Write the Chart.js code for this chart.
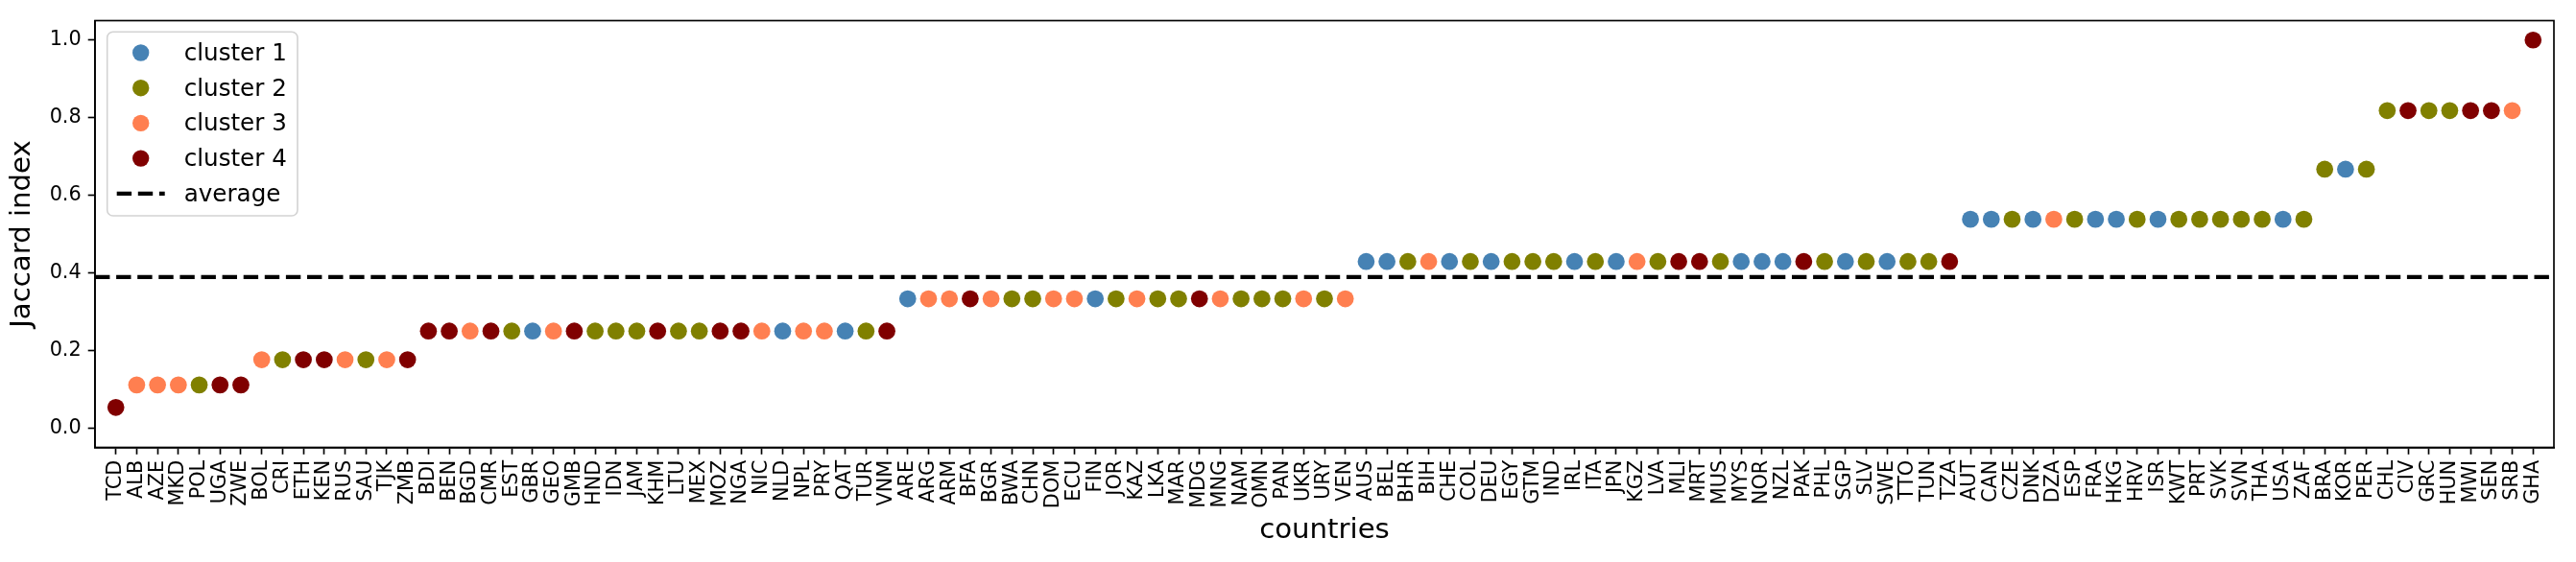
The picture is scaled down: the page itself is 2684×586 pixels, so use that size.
<!DOCTYPE html>
<html>
<head>
<meta charset="utf-8">
<script src="https://cdn.jsdelivr.net/npm/chart.js@4/dist/chart.umd.min.js"></script>
<style>
  html, body { margin: 0; padding: 0; background: #fff; overflow: hidden; }
  canvas { display: block; }
</style>
</head>
<body>
<canvas id="c" width="2684" height="586"></canvas>
<script>
// ---- data ----
const countries = [
  'TCD',
  'ALB','AZE','MKD','POL','UGA','ZWE',
  'BOL','CRI','ETH','KEN','RUS','SAU','TJK','ZMB',
  'BDI','BEN','BGD','CMR','EST','GBR','GEO','GMB','HND','IDN','JAM','KHM','LTU','MEX','MOZ','NGA','NIC','NLD','NPL','PRY','QAT','TUR','VNM',
  'ARE','ARG','ARM','BFA','BGR','BWA','CHN','DOM','ECU','FIN','JOR','KAZ','LKA','MAR','MDG','MNG','NAM','OMN','PAN','UKR','URY','VEN',
  'AUS','BEL','BHR','BIH','CHE','COL','DEU','EGY','GTM','IND','IRL','ITA','JPN','KGZ','LVA','MLI','MRT','MUS','MYS','NOR','NZL','PAK','PHL','SGP','SLV','SWE','TTO','TUN','TZA',
  'AUT','CAN','CZE','DNK','DZA','ESP','FRA','HKG','HRV','ISR','KWT','PRT','SVK','SVN','THA','USA','ZAF',
  'BRA','KOR','PER',
  'CHL','CIV','GRC','HUN','MWI','SEN','SRB',
  'GHA'
];
const jaccard = [
  0.053,
  0.111,0.111,0.111,0.111,0.111,0.111,
  0.176,0.176,0.176,0.176,0.176,0.176,0.176,0.176,
  0.25,0.25,0.25,0.25,0.25,0.25,0.25,0.25,0.25,0.25,0.25,0.25,0.25,0.25,0.25,0.25,0.25,0.25,0.25,0.25,0.25,0.25,0.25,
  0.333,0.333,0.333,0.333,0.333,0.333,0.333,0.333,0.333,0.333,0.333,0.333,0.333,0.333,0.333,0.333,0.333,0.333,0.333,0.333,0.333,0.333,
  0.429,0.429,0.429,0.429,0.429,0.429,0.429,0.429,0.429,0.429,0.429,0.429,0.429,0.429,0.429,0.429,0.429,0.429,0.429,0.429,0.429,0.429,0.429,0.429,0.429,0.429,0.429,0.429,0.429,
  0.538,0.538,0.538,0.538,0.538,0.538,0.538,0.538,0.538,0.538,0.538,0.538,0.538,0.538,0.538,0.538,0.538,
  0.667,0.667,0.667,
  0.818,0.818,0.818,0.818,0.818,0.818,0.818,
  1.0
];
const cluster = [
  4,
  3,3,3,2,4,4,
  3,2,4,4,3,2,3,4,
  4,4,3,4,2,1,3,4,2,2,2,4,2,2,4,4,3,1,3,3,1,2,4,
  1,3,3,4,3,2,2,3,3,1,2,3,2,2,4,3,2,2,2,3,2,3,
  1,1,2,3,1,2,1,2,2,2,1,2,1,3,2,4,4,2,1,1,1,4,2,1,2,1,2,2,4,
  1,1,2,1,3,2,1,1,2,1,2,2,2,2,2,1,2,
  2,1,2,
  2,4,2,2,4,4,3,
  4
];
const clusterNames = ['cluster 1','cluster 2','cluster 3','cluster 4'];
const clusterColors = ['#4682B4','#808000','#FF7F50','#800000'];
const averageValue = 0.389;
const yTickValues = [0.0, 0.2, 0.4, 0.6, 0.8, 1.0];

// ---- chart ----
const FONT = "'DejaVu Sans', 'Liberation Sans', sans-serif";
Chart.defaults.font.family = FONT;
Chart.defaults.color = '#000';

const datasets = clusterNames.map((name, k) => ({
  type: 'scatter',
  label: name,
  data: countries.map((c, i) => ({x: i, y: jaccard[i], k: cluster[i]}))
                 .filter(p => p.k === k + 1),
  backgroundColor: clusterColors[k],
  borderColor: clusterColors[k],
  borderWidth: 0,
  pointRadius: 8.85,
  pointHoverRadius: 8.85,
  order: 2
}));
datasets.push({
  type: 'line',
  label: 'average',
  data: [{x: -1, y: averageValue}, {x: countries.length, y: averageValue}],
  borderColor: '#000',
  borderWidth: 4.2,
  borderDash: [15.4, 6.7],
  pointRadius: 0,
  fill: false,
  order: 1
});

const framePlugin = {
  id: 'frame',
  afterDatasetsDraw(chart) {
    const {ctx, chartArea: a} = chart;
    ctx.save();
    ctx.strokeStyle = '#000';
    ctx.lineWidth = 1.67;
    ctx.strokeRect(a.left, a.top, a.right - a.left, a.bottom - a.top);
    ctx.restore();
  }
};

const legendPlugin = {
  id: 'mplLegend',
  afterDraw(chart) {
    const ctx = chart.ctx;
    const x0 = 111.7, y0 = 33.3, w = 198.3, h = 191.7, r = 6;
    ctx.save();
    ctx.beginPath();
    ctx.moveTo(x0 + r, y0);
    ctx.arcTo(x0 + w, y0, x0 + w, y0 + h, r);
    ctx.arcTo(x0 + w, y0 + h, x0, y0 + h, r);
    ctx.arcTo(x0, y0 + h, x0, y0, r);
    ctx.arcTo(x0, y0, x0 + w, y0, r);
    ctx.closePath();
    ctx.fillStyle = 'rgba(255,255,255,0.8)';
    ctx.fill();
    ctx.strokeStyle = '#d3d3d3';
    ctx.lineWidth = 1.6;
    ctx.stroke();

    const ds = chart.data.datasets;
    const rowY0 = 55, rowH = 36.7, markerX = 146.7, textX = 191.7;
    ctx.font = "24.6px " + FONT;
    ctx.textBaseline = 'middle';
    ctx.textAlign = 'left';
    ds.forEach((d, i) => {
      const y = rowY0 + i * rowH;
      if (d.type === 'line') {
        ctx.beginPath();
        ctx.setLineDash(d.borderDash);
        ctx.lineWidth = d.borderWidth;
        ctx.strokeStyle = d.borderColor;
        ctx.moveTo(121.7, y);
        ctx.lineTo(171.7, y);
        ctx.stroke();
        ctx.setLineDash([]);
      } else {
        ctx.beginPath();
        ctx.arc(markerX, y, 8.7, 0, Math.PI * 2);
        ctx.fillStyle = d.backgroundColor;
        ctx.fill();
      }
      ctx.fillStyle = '#000';
      ctx.fillText(d.label, textX, y + 1.5);
    });
    ctx.restore();
  }
};

new Chart(document.getElementById('c'), {
  type: 'scatter',
  data: { datasets },
  options: {
    responsive: false,
    animation: false,
    devicePixelRatio: 1,
    layout: { padding: { top: 21.5, right: 23, left: 0, bottom: 0 } },
    plugins: { legend: { display: false }, tooltip: { enabled: false } },
    scales: {
      x: {
        type: 'linear',
        min: -1,
        max: countries.length,
        afterBuildTicks: (scale) => { scale.ticks = countries.map((c, i) => ({value: i})); },
        afterFit: (scale) => { scale.height = 119.5; },
        ticks: {
          autoSkip: false,
          minRotation: 90,
          maxRotation: 90,
          padding: 6,
          font: { size: 20.8 },
          color: '#000',
          callback: (v) => countries[v]
        },
        grid: { display: true, drawOnChartArea: false, drawTicks: true, tickLength: 7.3, tickWidth: 1.67, tickColor: '#000' },
        border: { display: true, color: '#000', width: 1.67 },
        title: { display: true, text: 'countries', font: { size: 29.2 }, color: '#000', padding: { top: 0, bottom: 15 } }
      },
      y: {
        type: 'linear',
        min: -0.05,
        max: 1.05,
        afterBuildTicks: (scale) => { scale.ticks = yTickValues.map(v => ({value: v})); },
        afterFit: (scale) => { scale.width = 99; },
        ticks: {
          padding: 7,
          font: { size: 20.8 },
          color: '#000',
          callback: (v) => Number(v).toFixed(1)
        },
        grid: { display: true, drawOnChartArea: false, drawTicks: true, tickLength: 7.3, tickWidth: 1.67, tickColor: '#000' },
        border: { display: true, color: '#000', width: 1.67 },
        title: { display: true, text: 'Jaccard index', font: { size: 29.2 }, color: '#000', padding: { top: 6, bottom: 0 } }
      }
    }
  },
  plugins: [framePlugin, legendPlugin]
});
</script>
</body>
</html>
